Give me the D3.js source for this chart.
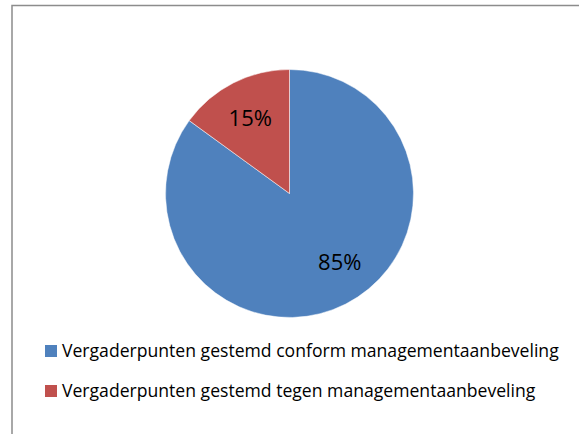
<html>
<head>
<script src="https://d3js.org/d3.v7.min.js"></script>
<style>
  body { margin: 0; background: white; }
  text { font-family: "Open Sans", sans-serif; fill: #000; }
</style>
</head>
<body>
<svg width="579" height="434"></svg>
<script>
var categories = ["Vergaderpunten gestemd conform managementaanbeveling",
                  "Vergaderpunten gestemd tegen managementaanbeveling"];
var values = [85, 15];
var colors = ["#4F81BD", "#C0504D"];

var svg = d3.select("svg");

// chart area border (only top and left show in the picture)
svg.append("rect")
    .attr("x", 12).attr("y", 5.5)
    .attr("width", 600).attr("height", 500)
    .attr("fill", "none")
    .attr("stroke", "#8c8c8c")
    .attr("stroke-width", 1.5);

var cx = 289.5, cy = 193.5, r = 124;

var pie = d3.pie().sort(null).value(function (d) { return d; });
var arc = d3.arc().innerRadius(0).outerRadius(r);
var arcs = pie(values);

var g = svg.append("g").attr("transform", "translate(" + cx + "," + cy + ")");

g.selectAll("path")
  .data(arcs)
  .enter()
  .append("path")
    .attr("d", arc)
    .attr("fill", function (d, i) { return colors[i]; })
    .attr("stroke", "white")
    .attr("stroke-width", 0.5);

// percentage labels, small nudge like excel's placement
var labelArc = d3.arc().innerRadius(r * 0.68).outerRadius(r * 0.68);
var nudge = [[12, -6], [-1, 0]];
g.selectAll("text.pct")
  .data(arcs)
  .enter()
  .append("text")
    .attr("class", "pct")
    .attr("transform", function (d, i) {
      var c = labelArc.centroid(d);
      return "translate(" + (c[0] + nudge[i][0]) + "," + (c[1] + nudge[i][1]) + ")";
    })
    .attr("text-anchor", "middle")
    .attr("dy", "0.35em")
    .style("font-size", "22px")
    .text(function (d) { return d.value + "%"; });

// legend
var legend = svg.append("g").attr("transform", "translate(45,345)");
var item = legend.selectAll("g")
  .data(categories)
  .enter()
  .append("g")
    .attr("transform", function (d, i) { return "translate(0," + (i * 40) + ")"; });

item.append("rect")
    .attr("width", 12).attr("height", 12)
    .attr("fill", function (d, i) { return colors[i]; });

item.append("text")
    .attr("x", 17).attr("y", 12)
    .style("font-size", "17.6px")
    .text(function (d) { return d; });
</script>
</body>
</html>
